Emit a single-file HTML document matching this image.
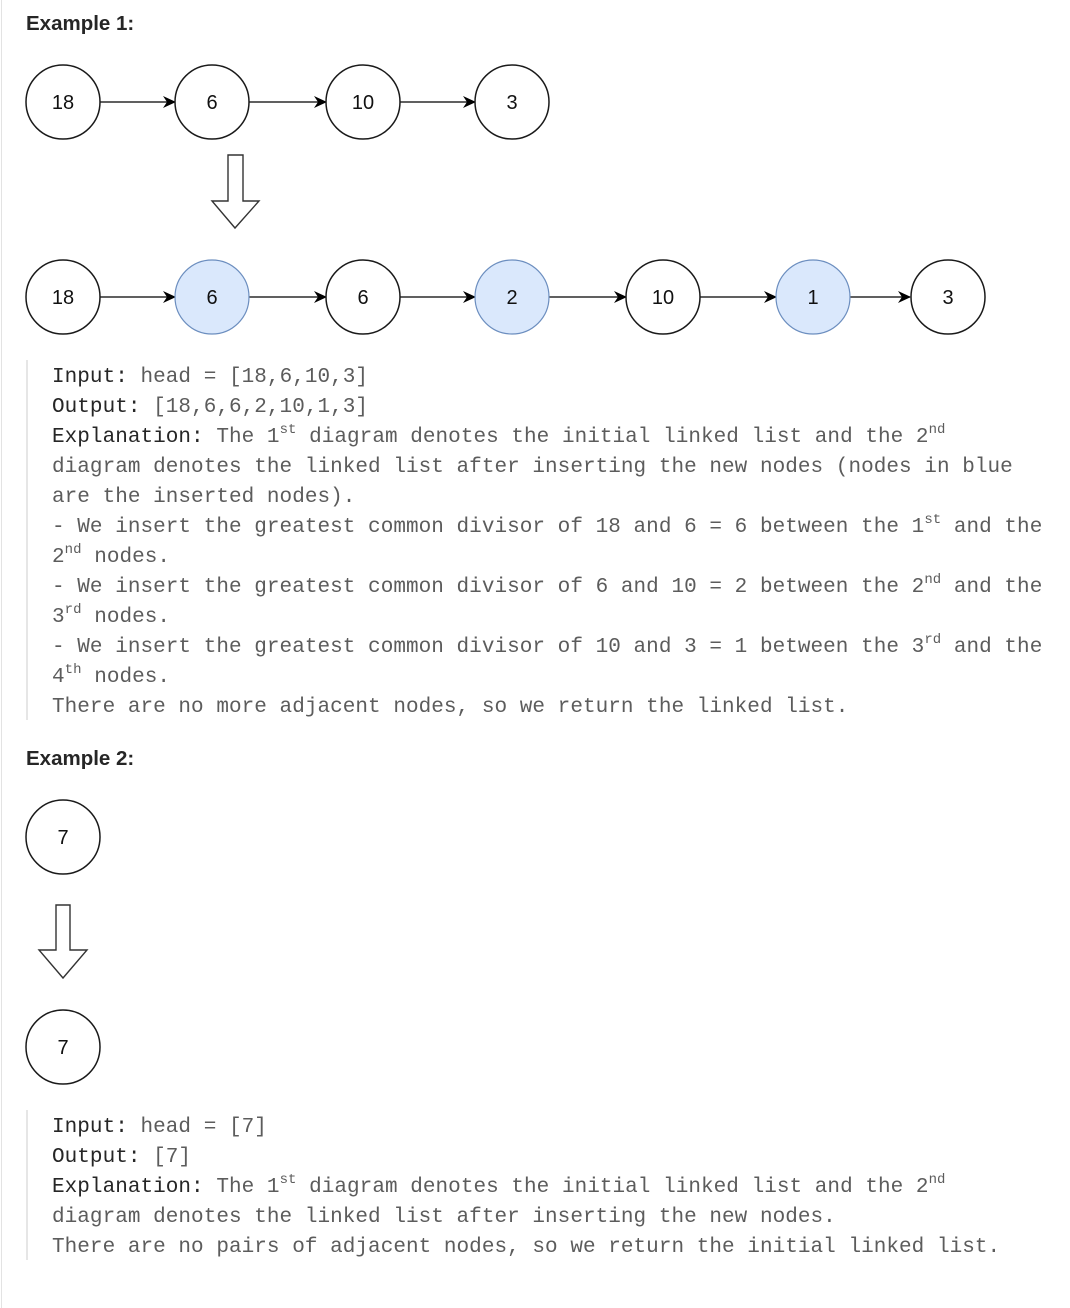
<!DOCTYPE html>
<html><head><meta charset="utf-8"><style>
html,body{margin:0;padding:0;background:#fff;width:1070px;height:1308px;overflow:hidden;position:relative}
.edge{position:absolute;left:1px;top:0;width:1px;height:1308px;background:#e3e3e3}
h{position:absolute;left:26px;font:bold 20.5px "Liberation Sans",sans-serif;color:#262626}
.code{position:absolute;left:52px;font:21px/30px "Liberation Mono",monospace;color:#5c5c5c;white-space:pre;letter-spacing:0.04px}
.code b{font-weight:normal;color:#262626}
.code sup{font-size:14px;line-height:0;vertical-align:9px}
.bar{position:absolute;left:26px;width:2px;background:#e6e6e6}
svg{position:absolute;left:0;top:0}
</style></head><body>
<div class="edge"></div>
<h style="top:12px">Example 1:</h>
<h style="top:747px">Example 2:</h>
<svg width="1070" height="1308" font-family="Liberation Sans, sans-serif" font-size="20">
<defs><marker id="a" markerWidth="13" markerHeight="12" refX="12" refY="6" orient="auto" markerUnits="userSpaceOnUse"><path d="M0,0 L13,6 L0,12 L4,6 z" fill="#000"/></marker></defs>
<g stroke="#000" stroke-width="1.3" fill="none">
<line x1="100" y1="102" x2="175" y2="102" marker-end="url(#a)"/>
<line x1="249" y1="102" x2="326" y2="102" marker-end="url(#a)"/>
<line x1="400" y1="102" x2="475" y2="102" marker-end="url(#a)"/>
<line x1="100" y1="297" x2="175" y2="297" marker-end="url(#a)"/>
<line x1="249" y1="297" x2="326" y2="297" marker-end="url(#a)"/>
<line x1="400" y1="297" x2="475" y2="297" marker-end="url(#a)"/>
<line x1="549" y1="297" x2="626" y2="297" marker-end="url(#a)"/>
<line x1="700" y1="297" x2="776" y2="297" marker-end="url(#a)"/>
<line x1="850" y1="297" x2="910" y2="297" marker-end="url(#a)"/>
</g>
<g stroke="#1a1a1a" stroke-width="1.5" fill="#fff">
<circle cx="63" cy="102" r="37"/><circle cx="212" cy="102" r="37"/><circle cx="363" cy="102" r="37"/><circle cx="512" cy="102" r="37"/>
<circle cx="63" cy="297" r="37"/><circle cx="363" cy="297" r="37"/><circle cx="663" cy="297" r="37"/><circle cx="948" cy="297" r="37"/>
<circle cx="63" cy="837" r="37"/><circle cx="63" cy="1047" r="37"/>
</g>
<g stroke="#6c8ebf" stroke-width="1.2" fill="#dae8fc">
<circle cx="212" cy="297" r="37"/><circle cx="512" cy="297" r="37"/><circle cx="813" cy="297" r="37"/>
</g>
<g stroke="#333" stroke-width="1.4" fill="#fff">
<path d="M228,155 H243 V201 H259 L235,228 L212,201 H228 Z"/>
<path d="M56,905 H70 V950 H87 L63,978 L39,950 H56 Z"/>
</g>
<g fill="#111" text-anchor="middle">
<text x="63" y="109">18</text><text x="212" y="109">6</text><text x="363" y="109">10</text><text x="512" y="109">3</text>
<text x="63" y="304">18</text><text x="212" y="304">6</text><text x="363" y="304">6</text><text x="512" y="304">2</text><text x="663" y="304">10</text><text x="813" y="304">1</text><text x="948" y="304">3</text>
<text x="63" y="844">7</text><text x="63" y="1054">7</text>
</g>
</svg>
<div class="bar" style="top:360px;height:360px"></div>
<div class="bar" style="top:1110px;height:150px"></div>
<div class="code" style="top:363px"><b>Input:</b> head = [18,6,10,3]
<b>Output:</b> [18,6,6,2,10,1,3]
<b>Explanation:</b> The 1<sup>st</sup> diagram denotes the initial linked list and the 2<sup>nd</sup>
diagram denotes the linked list after inserting the new nodes (nodes in blue
are the inserted nodes).
- We insert the greatest common divisor of 18 and 6 = 6 between the 1<sup>st</sup> and the
2<sup>nd</sup> nodes.
- We insert the greatest common divisor of 6 and 10 = 2 between the 2<sup>nd</sup> and the
3<sup>rd</sup> nodes.
- We insert the greatest common divisor of 10 and 3 = 1 between the 3<sup>rd</sup> and the
4<sup>th</sup> nodes.
There are no more adjacent nodes, so we return the linked list.</div>
<div class="code" style="top:1113px"><b>Input:</b> head = [7]
<b>Output:</b> [7]
<b>Explanation:</b> The 1<sup>st</sup> diagram denotes the initial linked list and the 2<sup>nd</sup>
diagram denotes the linked list after inserting the new nodes.
There are no pairs of adjacent nodes, so we return the initial linked list.</div>
</body></html>
